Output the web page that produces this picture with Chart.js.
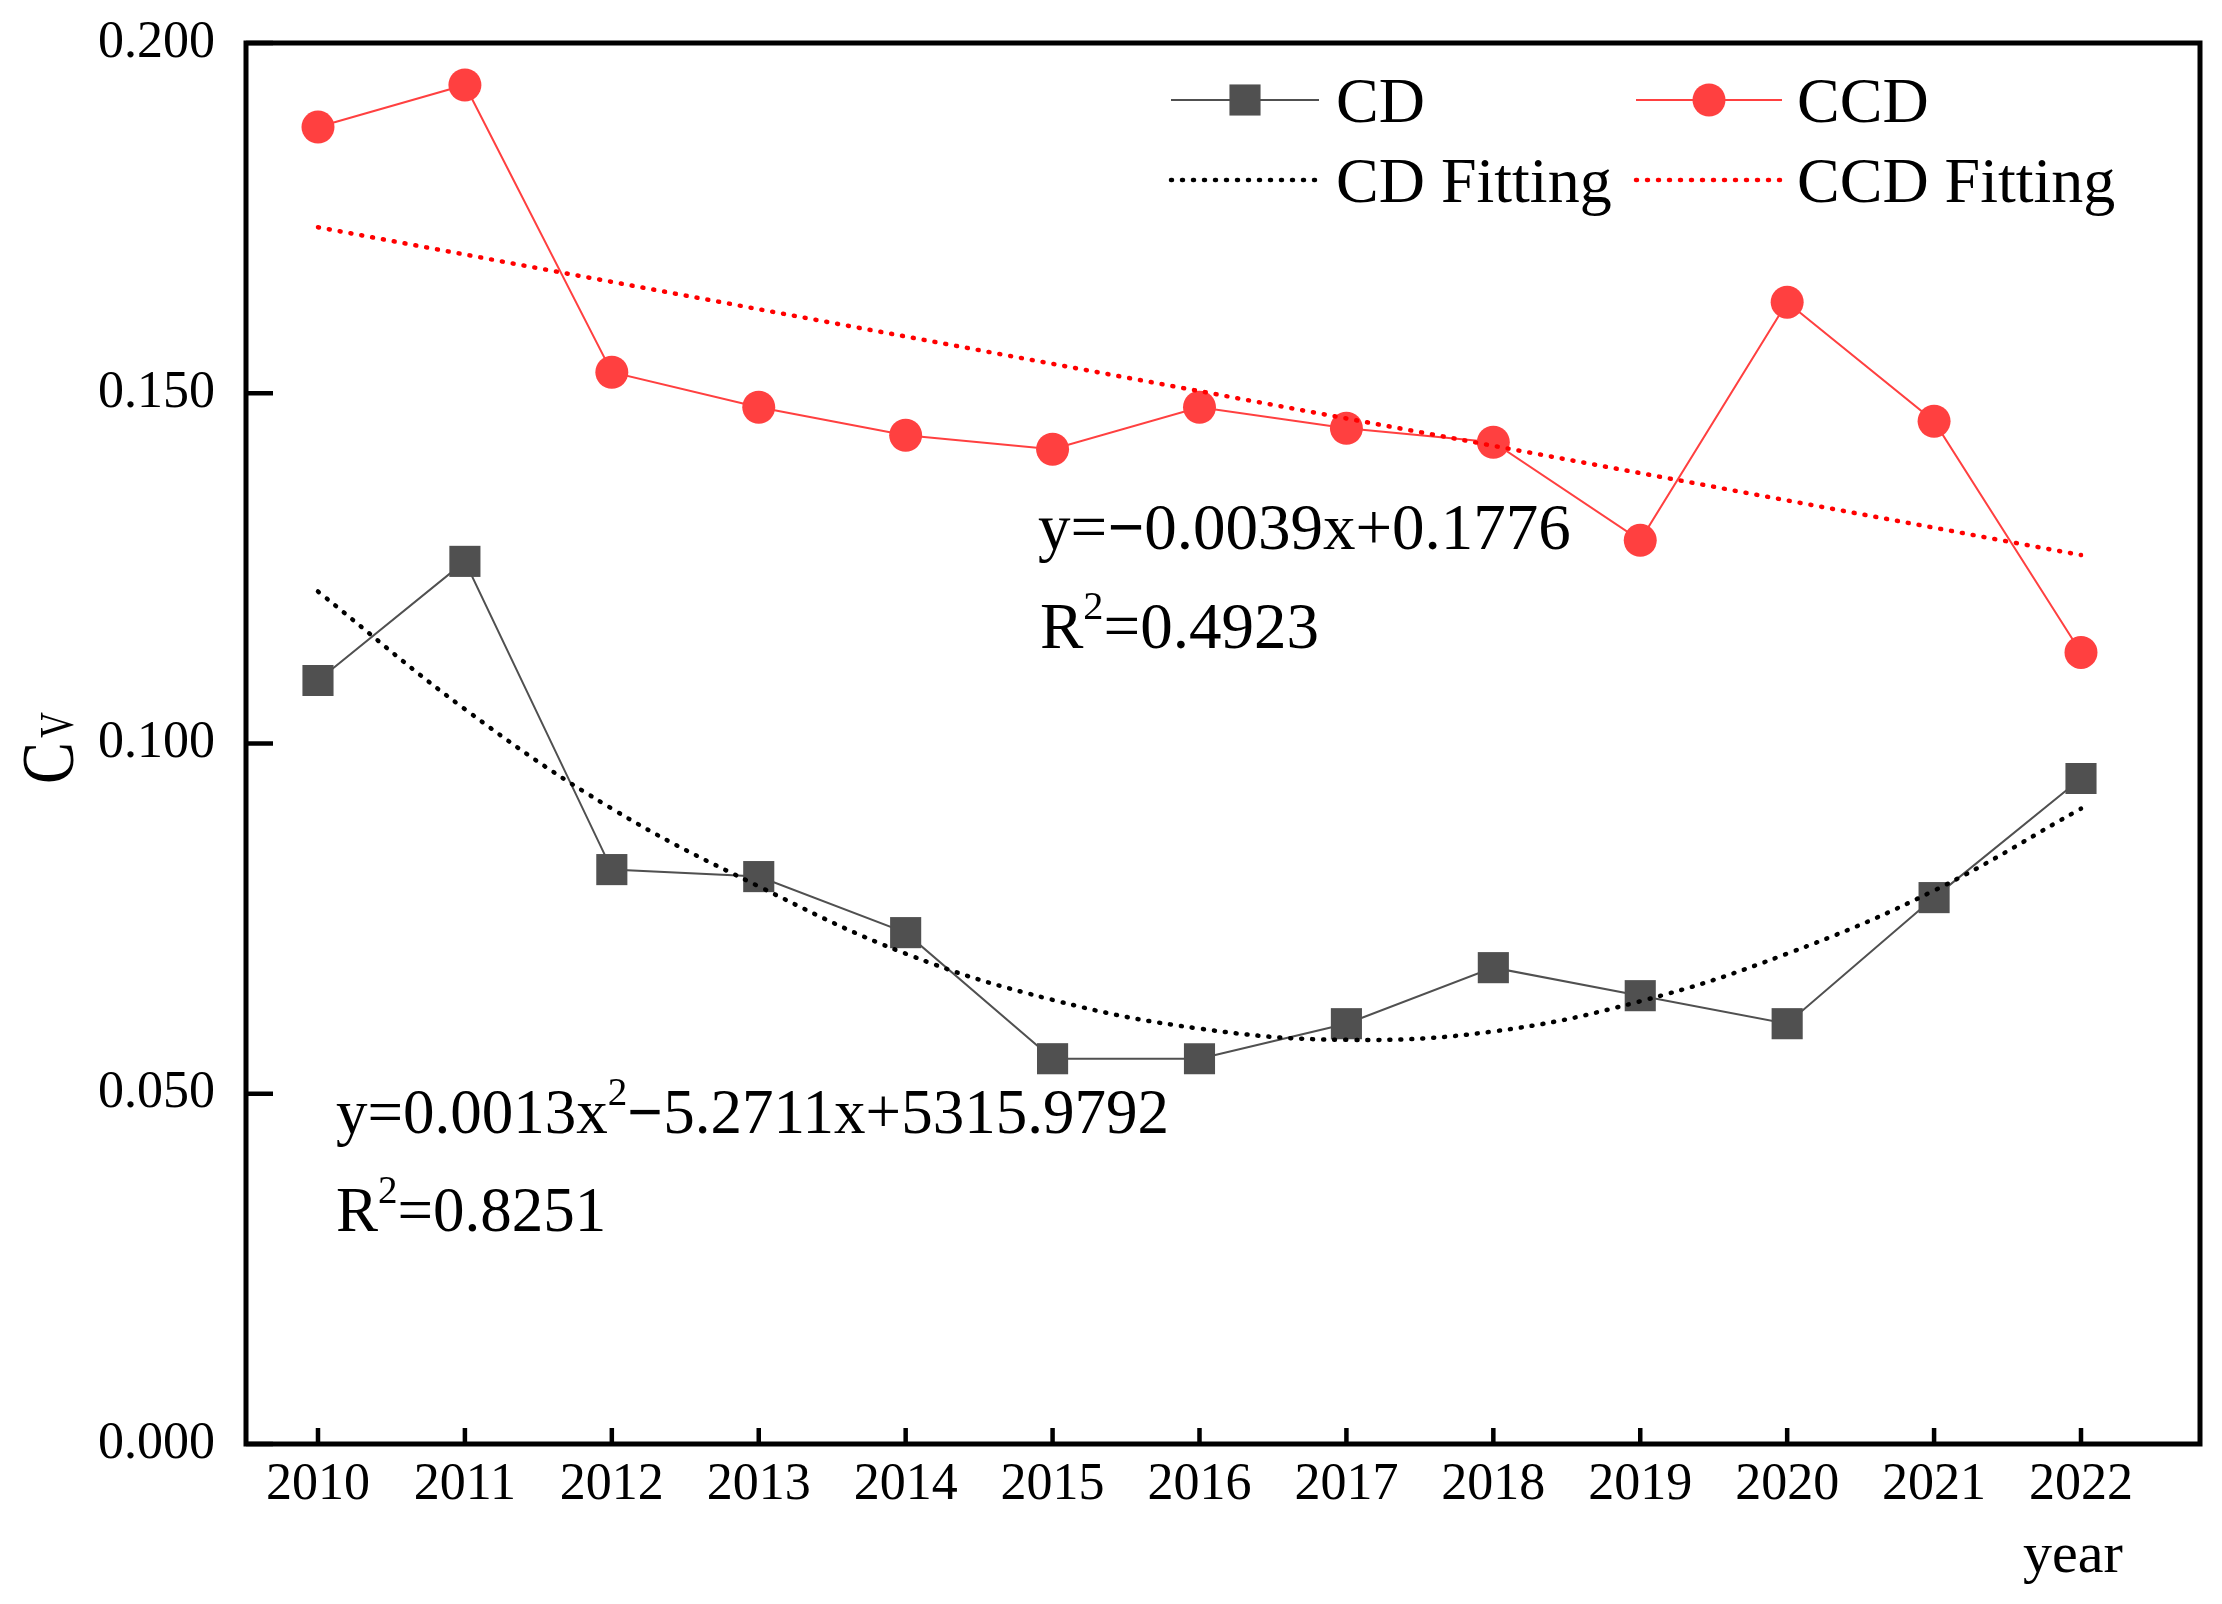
<!DOCTYPE html>
<html><head><meta charset="utf-8">
<script src="https://cdn.jsdelivr.net/npm/chart.js@4.4.1/dist/chart.umd.min.js"></script>
<style>html,body{margin:0;padding:0;background:#fff;}canvas{display:block;}</style>
</head><body>
<canvas id="c" width="2222" height="1604" style="width:2222px;height:1604px"></canvas>
<script>
// ---- data ----
const years = [2010, 2011, 2012, 2013, 2014, 2015, 2016, 2017, 2018, 2019, 2020, 2021, 2022];
const cdValues = [0.109, 0.126, 0.082, 0.081, 0.073, 0.055, 0.055, 0.060, 0.068, 0.064, 0.060, 0.078, 0.095];
const ccdValues = [0.188, 0.194, 0.153, 0.148, 0.144, 0.142, 0.148, 0.145, 0.143, 0.129, 0.163, 0.146, 0.113];
const cdFitValues = [0.1217, 0.1049, 0.0907, 0.0796, 0.0700, 0.0634, 0.0593, 0.0577, 0.0589, 0.0632, 0.0700, 0.0790, 0.0907];
const ccdFitValues = [0.1737, 0.1698, 0.1659, 0.1620, 0.1581, 0.1542, 0.1503, 0.1464, 0.1425, 0.1386, 0.1347, 0.1308, 0.1269];
const yTickValues = [0, 0.05, 0.10, 0.15, 0.20];
const seriesNames = ['CD', 'CCD', 'CD Fitting', 'CCD Fitting'];
// text pieces: [text, 'n' normal | 's' superscript | 'b' bold]
const ccdEquation = [['y=', 'n'], ['\u2212', 'b'], ['0.0039x+0.1776', 'n']];
const ccdR2 = [['R', 'n'], ['2', 's'], ['=0.4923', 'n']];
const cdEquation = [['y=0.0013x', 'n'], ['2', 's'], ['\u2212', 'b'], ['5.2711x+5315.9792', 'n']];
const cdR2 = [['R', 'n'], ['2', 's'], ['=0.8251', 'n']];
const xTitle = 'year';
const yTitleMain = 'C';
const yTitleSub = 'V';

const FONT = "'Liberation Serif','Times New Roman',serif";
const pts = (vals) => years.map((x, i) => ({x: x, y: vals[i]}));

function drawRich(ctx, parts, x, y, size) {
  let cx = x;
  parts.forEach(([t, kind]) => {
    const s = kind === 's' ? size * 0.62 : size;
    ctx.font = (kind === 'b' ? 'bold ' : '') + s + 'px ' + FONT;
    ctx.fillText(t, cx, kind === 's' ? y - size * 0.44 : y);
    cx += ctx.measureText(t).width;
  });
}

const decor = {
  id: 'decor',
  afterDatasetsDraw(chart) {
    const ctx = chart.ctx, a = chart.chartArea, xs = chart.scales.x, ys = chart.scales.y;
    const ds = chart.data.datasets;
    ctx.save();
    ctx.strokeStyle = '#000';
    ctx.lineCap = 'butt';
    ctx.lineWidth = 4.5;
    xs.ticks.forEach(t => {
      const px = xs.getPixelForValue(t.value);
      ctx.beginPath(); ctx.moveTo(px, a.bottom); ctx.lineTo(px, a.bottom - 16); ctx.stroke();
    });
    ys.ticks.forEach(t => {
      const py = ys.getPixelForValue(t.value);
      ctx.beginPath(); ctx.moveTo(a.left, py); ctx.lineTo(a.left + 27, py); ctx.stroke();
    });
    ctx.lineWidth = 5;
    ctx.strokeRect(a.left, a.top, a.right - a.left, a.bottom - a.top);

    // legend
    const rows = [
      {i: 0, x0: 1171, x1: 1319, tx: 1336, y: 100, by: 122},
      {i: 1, x0: 1636, x1: 1782, tx: 1797, y: 100, by: 122},
      {i: 2, x0: 1171, x1: 1319, tx: 1336, y: 180, by: 202},
      {i: 3, x0: 1636, x1: 1782, tx: 1797, y: 180, by: 202}
    ];
    rows.forEach(r => {
      const d = ds[r.i];
      ctx.save();
      ctx.strokeStyle = d.borderColor;
      ctx.lineWidth = d.borderWidth;
      ctx.lineCap = d.borderCapStyle || 'butt';
      ctx.setLineDash(d.borderDash || []);
      ctx.beginPath(); ctx.moveTo(r.x0, r.y); ctx.lineTo(r.x1, r.y); ctx.stroke();
      ctx.setLineDash([]);
      const mx = (r.x0 + r.x1) / 2;
      ctx.fillStyle = d.backgroundColor;
      if (d.pointRadius > 0) {
        if (d.pointStyle === 'rect') {
          const h = d.pointRadius * Math.SQRT1_2;
          ctx.fillRect(mx - h, r.y - h, 2 * h, 2 * h);
        } else {
          ctx.beginPath(); ctx.arc(mx, r.y, d.pointRadius, 0, Math.PI * 2); ctx.fill();
        }
      }
      ctx.restore();
      ctx.fillStyle = '#000';
      ctx.textBaseline = 'alphabetic';
      ctx.textAlign = 'left';
      ctx.font = '64px ' + FONT;
      ctx.fillText(d.label, r.tx, r.by);
    });

    // equations
    ctx.fillStyle = '#000';
    ctx.textAlign = 'left';
    ctx.textBaseline = 'alphabetic';
    drawRich(ctx, ccdEquation, 1038, 549, 65);
    drawRich(ctx, ccdR2, 1040, 648, 65);
    drawRich(ctx, cdEquation, 336, 1133, 63);
    drawRich(ctx, cdR2, 336, 1231, 63);

    // axis titles
    ctx.font = '58px ' + FONT;
    ctx.fillText(xTitle, 2023, 1572);

    ctx.save();
    ctx.translate(73, 784); ctx.rotate(-Math.PI / 2); ctx.scale(0.85, 1);
    ctx.font = '74px ' + FONT;
    ctx.fillText(yTitleMain, 0, 0);
    ctx.restore();
    ctx.save();
    ctx.translate(73, 738); ctx.rotate(-Math.PI / 2); ctx.scale(0.75, 1);
    ctx.font = '48px ' + FONT;
    ctx.fillText(yTitleSub, 0, 0);
    ctx.restore();

    ctx.restore();
  }
};

new Chart(document.getElementById('c'), {
  type: 'line',
  data: {
    datasets: [
      {label: seriesNames[0], data: pts(cdValues), borderColor: '#505050', backgroundColor: '#505050',
       borderWidth: 2, pointStyle: 'rect', pointRadius: 22, pointHoverRadius: 22, pointBorderWidth: 0, order: 2},
      {label: seriesNames[1], data: pts(ccdValues), borderColor: '#FF4040', backgroundColor: '#FF4040',
       borderWidth: 2, pointStyle: 'circle', pointRadius: 16.5, pointHoverRadius: 16.5, pointBorderWidth: 0, order: 2},
      {label: seriesNames[2], data: pts(cdFitValues), borderColor: '#000000', backgroundColor: '#000000',
       borderWidth: 4.5, borderDash: [1, 10], borderCapStyle: 'round', pointRadius: 0, tension: 0.4, order: 1},
      {label: seriesNames[3], data: pts(ccdFitValues), borderColor: '#FF0000', backgroundColor: '#FF0000',
       borderWidth: 4.5, borderDash: [1, 10], borderCapStyle: 'round', pointRadius: 0, tension: 0, order: 1}
    ]
  },
  options: {
    responsive: false,
    animation: false,
    devicePixelRatio: 1,
    events: [],
    layout: {padding: {top: 43, right: 20, left: 0, bottom: 0}},
    plugins: {legend: {display: false}, tooltip: {enabled: false}},
    scales: {
      x: {
        type: 'linear', min: 2009.51, max: 2022.81,
        grid: {display: false, drawTicks: false}, border: {display: false},
        afterBuildTicks: (s) => { s.ticks = years.map(v => ({value: v})); },
        afterFit: (s) => { s.height = 160; s.paddingLeft = 0; s.paddingRight = 0; },
        ticks: {color: '#000', padding: 10, font: {family: FONT, size: 52}, callback: (v) => String(v), maxRotation: 0, autoSkip: false}
      },
      y: {
        min: 0, max: 0.2,
        grid: {display: false, drawTicks: false}, border: {display: false},
        afterBuildTicks: (s) => { s.ticks = yTickValues.map(v => ({value: v})); },
        afterFit: (s) => { s.width = 246; s.paddingTop = 0; s.paddingBottom = 0; },
        ticks: {color: '#000', padding: 31, font: {family: FONT, size: 52}, callback: (v) => Number(v).toFixed(3)}
      }
    }
  },
  plugins: [decor]
});
</script>
</body></html>
